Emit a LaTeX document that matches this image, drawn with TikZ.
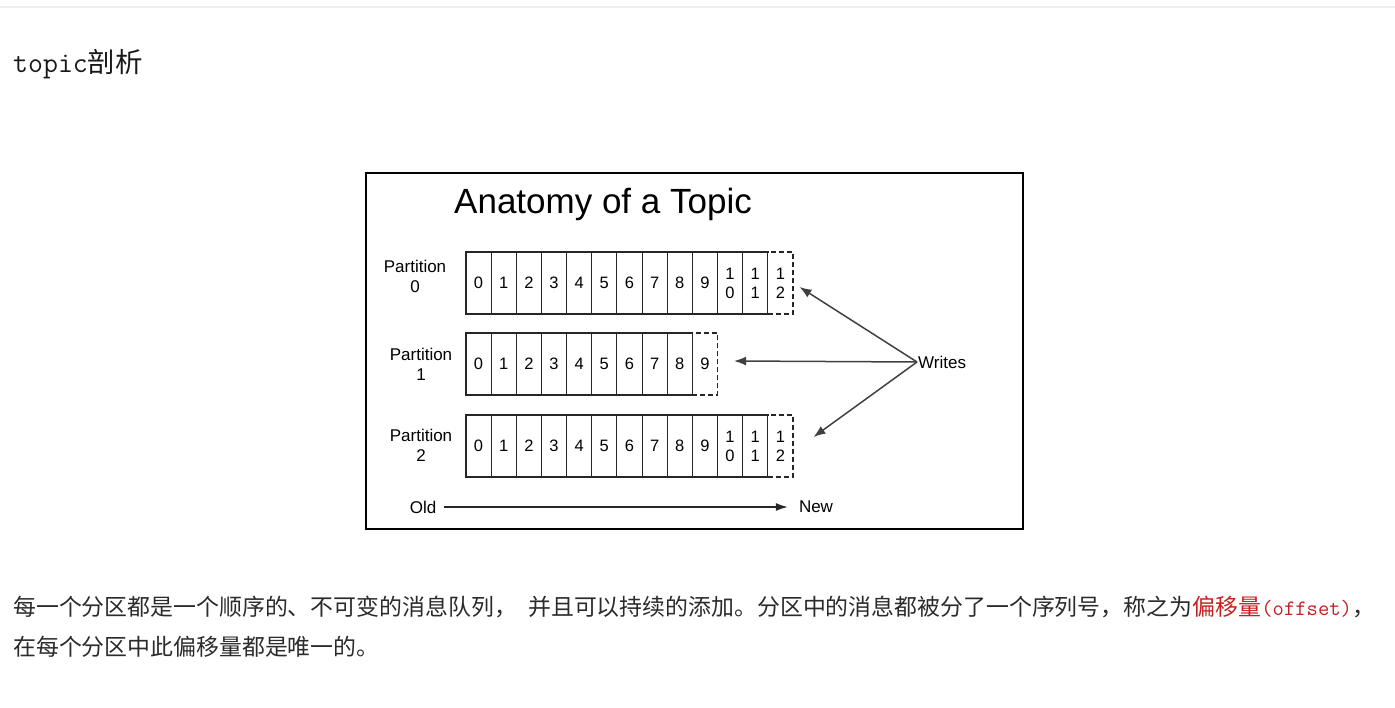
\documentclass[tikz,border=0pt]{standalone}
\usepackage{fontspec}
\newfontfamily\cjk{Noto Sans CJK SC}
\newfontfamily\arial{Liberation Sans}
\usetikzlibrary{arrows.meta}
\definecolor{txt}{HTML}{2B2B2B}
\definecolor{hl}{HTML}{C42020}
\definecolor{sep}{HTML}{EEEEEE}
\tikzset{
  cellbox/.style={draw=black!85, line width=1.1pt, minimum width=25.15pt, minimum height=62pt, inner sep=0pt,
    font=\arial\fontsize{16.5}{20}\selectfont, align=center},
  newcell/.style={cellbox, dashed, dash pattern=on 5pt off 3pt},
  plabel/.style={font=\arial\fontsize{17}{20}\selectfont, align=center, inner sep=0pt},
  wr/.style={draw=black!75, line width=1.5pt, -{Latex[length=12pt,width=9pt]}},
  body/.style={font=\cjk\fontsize{22.9}{26}\selectfont, text=txt, anchor=base west, inner sep=0pt},
}
\begin{document}
\begin{tikzpicture}[x=1pt,y=-1pt]
\useasboundingbox (0,0) rectangle (1395,708);
\draw[sep, line width=2pt] (0,7) -- (1395,7);
\node[anchor=base west, inner sep=0pt, text=black!90] (head) at (13,73)
  {{\ttfamily\fontsize{29}{29}\selectfont topic}{\cjk\fontsize{27.5}{27}\selectfont 剖析}};
% frame
\node[draw=black, line width=2pt, minimum width=657pt, minimum height=356pt, inner sep=0pt, anchor=north west] (frame) at (365,172) {};
\node[font=\arial\fontsize{35}{40}\selectfont, anchor=base west, inner sep=0pt] (title) at (454,214) {Anatomy of a Topic};
% partition labels
\node[plabel] (l0) at (415,276) {Partition\\0};
\node[plabel] (l1) at (421,364) {Partition\\1};
\node[plabel] (l2) at (421,445) {Partition\\2};
% partition 0 and 2
\foreach \r/\y in {0/283,2/446}{
  \foreach \i/\t in {0/0,1/1,2/2,3/3,4/4,5/5,6/6,7/7,8/8,9/9,10/{1\\[-1pt]0},11/{1\\[-1pt]1}}{
    \node[cellbox] (p\r c\i) at ({466+25.15*\i+12.575},\y) {\t};
  }
  \node[newcell] (p\r c12) at ({466+25.15*12+12.575},\y) {1\\[-1pt]2};
}
% partition 1
\foreach \i in {0,...,8}{
  \node[cellbox] (p1c\i) at ({466+25.15*\i+12.575},364) {\i};
}
\node[newcell] (p1c9) at ({466+25.15*9+12.575},364) {9};
% writes
\node[font=\arial\fontsize{17}{20}\selectfont, anchor=west, inner sep=1pt] (writes) at (917,362) {Writes};
\draw[wr] (writes.west) -- ([xshift=6pt,yshift=-4pt]p0c12.east);
\draw[wr] (writes.west) -- ([xshift=16pt,yshift=3pt]p1c9.east);
\draw[wr] (writes.west) -- ([xshift=20pt,yshift=9pt]p2c12.east);
% old/new
\node[font=\arial\fontsize{17}{20}\selectfont, inner sep=0pt] (old) at (423,507) {Old};
\node[font=\arial\fontsize{17}{20}\selectfont, inner sep=0pt] (new) at (816,507) {New};
\draw[draw=black!85, line width=1.2pt, -{Latex[length=12pt,width=8pt]}] ([xshift=8pt]old.east) -- ([xshift=-11pt]new.west);
% body text
\node[body] (t1) at (13,615) {每一个分区都是一个顺序的、不可变的消息队列，};
\node[body] (t2) at (528,615) {并且可以持续的添加。分区中的消息都被分了一个序列号，称之为};
\node[body, text=hl, anchor=base west] (t3) at (t2.base east) {偏移量{\ttfamily\fontsize{22}{26}\selectfont (offset)}};
\node[body, anchor=base west] (t4) at (t3.base east) {，};
\node[body] (t5) at (13,655) {在每个分区中此偏移量都是唯一的。};
\end{tikzpicture}
\end{document}
